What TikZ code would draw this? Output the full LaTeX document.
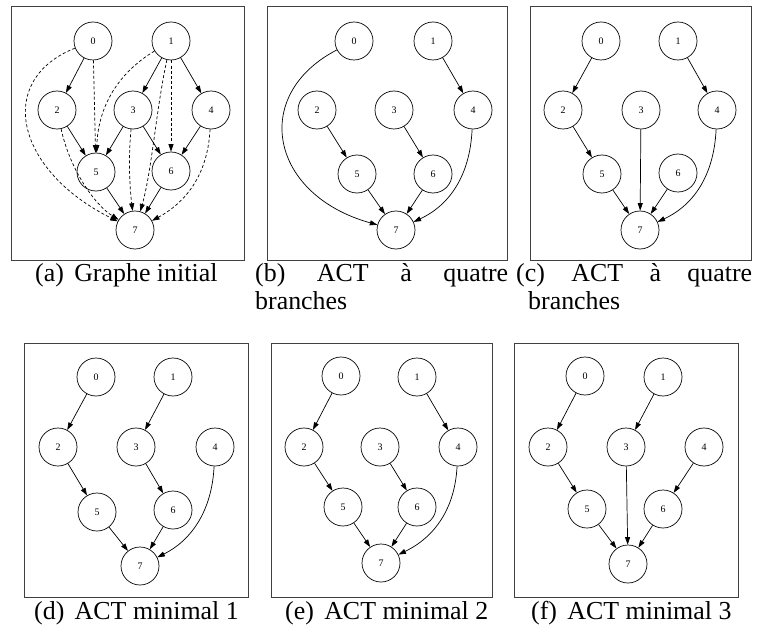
\documentclass[tikz,border=0pt]{standalone}
\usepackage{fontspec}
\setmainfont{Liberation Serif}
\usetikzlibrary{arrows.meta}
\tikzset{
  vtx/.style={circle,draw,line width=0.7bp,minimum size=38bp,inner sep=0pt,
    font=\fontsize{10}{12}\selectfont},
  arr/.style={line width=0.7bp,-{Triangle[length=7.5bp,width=5bp]}},
  darr/.style={arr,dash pattern=on 3bp off 2.2bp},
  panel/.style={draw=black!75,line width=0.9bp},
  captext/.style={inner sep=0pt,anchor=base west,font=\fontsize{26}{30}\selectfont},
}
\begin{document}
\begin{tikzpicture}[x=1bp,y=-1bp]
\useasboundingbox (0,0) rectangle (761,628);
\fill[white] (0,0) rectangle (761,628);

% ---------- panel frames ----------
\draw[panel] (11,6.5) rectangle (244,260.5);
\draw[panel] (267,6.5) rectangle (507,260.5);
\draw[panel] (530,6.5) rectangle (751,260.5);
\draw[panel] (24,343) rectangle (248,597);
\draw[panel] (271,343) rectangle (492,597);
\draw[panel] (514,343) rectangle (738,597);

% ---------- (a) ----------
\foreach \n/\x/\y in {0/93/41,1/171/41,2/57/110,3/133/110,4/211/110,5/96/172,6/171/171,7/135/230}
  \node[vtx] (a\n) at (\x,\y) {\n};
\draw[arr] (a0) -- (a2);
\draw[arr] (a1) -- (a3);
\draw[arr] (a1) -- (a4);
\draw[arr] (a2) -- (a5);
\draw[arr] (a3) -- (a5);
\draw[arr] (a3) -- (a6);
\draw[arr] (a4) -- (a6);
\draw[arr] (a5) -- (a7);
\draw[arr] (a6) -- (a7);
\draw[darr] (a0) -- (a5);
\draw[darr] (a1) -- (a6);
\draw[darr] (a0) .. controls (-5,80) and (15,170) .. (a7);
\draw[darr] (a2) .. controls (70,170) and (95,205) .. (a7);
\draw[darr] (a1) .. controls (115,75) and (98,110) .. (a5);
\draw[darr] (a1) .. controls (156,110) and (152,170) .. (a7);
\draw[darr] (a3) .. controls (128,160) and (130,190) .. (a7);
\draw[darr] (a4) .. controls (208,170) and (190,200) .. (a7);

% ---------- (b) ----------
\foreach \n/\x/\y in {0/354/41,1/433/41,2/317/110,3/394/110,4/473/110,5/357/174,6/433/174,7/396/230}
  \node[vtx] (b\n) at (\x,\y) {\n};
\draw[arr] (b1) -- (b4);
\draw[arr] (b2) -- (b5);
\draw[arr] (b3) -- (b6);
\draw[arr] (b5) -- (b7);
\draw[arr] (b6) -- (b7);
\draw[arr] (b0) .. controls (250,95) and (270,195) .. (b7);
\draw[arr] (b4) .. controls (470,175) and (450,205) .. (b7);

% ---------- (c) ----------
\foreach \n/\x/\y in {0/601/41,1/678/41,2/563/110,3/641/110,4/717/110,5/602/174,6/678/173,7/640/230}
  \node[vtx] (c\n) at (\x,\y) {\n};
\draw[arr] (c0) -- (c2);
\draw[arr] (c1) -- (c4);
\draw[arr] (c2) -- (c5);
\draw[arr] (c3) -- (c7);
\draw[arr] (c5) -- (c7);
\draw[arr] (c6) -- (c7);
\draw[arr] (c4) .. controls (714,175) and (694,205) .. (c7);

% ---------- (d) ----------
\foreach \n/\x/\y in {0/96/377,1/173/377,2/58/447,3/136/447,4/215/447,5/97/512,6/173/510,7/140/566}
  \node[vtx] (d\n) at (\x,\y) {\n};
\draw[arr] (d0) -- (d2);
\draw[arr] (d1) -- (d3);
\draw[arr] (d2) -- (d5);
\draw[arr] (d3) -- (d6);
\draw[arr] (d5) -- (d7);
\draw[arr] (d6) -- (d7);
\draw[arr] (d4) .. controls (212,510) and (192,540) .. (d7);

% ---------- (e) ----------
\foreach \n/\x/\y in {0/341/376,1/417/377,2/304/447,3/380/447,4/458/447,5/343/507,6/417/507,7/381/563}
  \node[vtx] (e\n) at (\x,\y) {\n};
\draw[arr] (e0) -- (e2);
\draw[arr] (e1) -- (e4);
\draw[arr] (e2) -- (e5);
\draw[arr] (e3) -- (e6);
\draw[arr] (e5) -- (e7);
\draw[arr] (e6) -- (e7);
\draw[arr] (e4) .. controls (455,508) and (435,537) .. (e7);

% ---------- (f) ----------
\foreach \n/\x/\y in {0/585/376,1/663/377,2/548/447,3/626/447,4/704/447,5/587/509,6/663/509,7/628/564}
  \node[vtx] (f\n) at (\x,\y) {\n};
\draw[arr] (f0) -- (f2);
\draw[arr] (f1) -- (f3);
\draw[arr] (f2) -- (f5);
\draw[arr] (f3) -- (f7);
\draw[arr] (f4) -- (f6);
\draw[arr] (f5) -- (f7);
\draw[arr] (f6) -- (f7);

% ---------- captions ----------
\node[captext] (capa) at (35,281.5) {(a)\hskip0.4em Graphe initial};
\node[captext] (capb1) at (255,281.5) {\makebox[253bp][s]{(b) ACT à quatre}};
\node[captext] (capb2) at (255,309.5) {branches};
\node[captext] (capc1) at (516,281.5) {\makebox[236bp][s]{(c) ACT à quatre}};
\node[captext] (capc2) at (528,309.5) {branches};
\node[captext] (capd) at (34,619) {(d)\hskip0.4em ACT minimal 1};
\node[captext] (cape) at (285,619) {(e)\hskip0.4em ACT minimal 2};
\node[captext] (capf) at (531,619) {(f)\hskip0.4em ACT minimal 3};
\end{tikzpicture}
\end{document}
